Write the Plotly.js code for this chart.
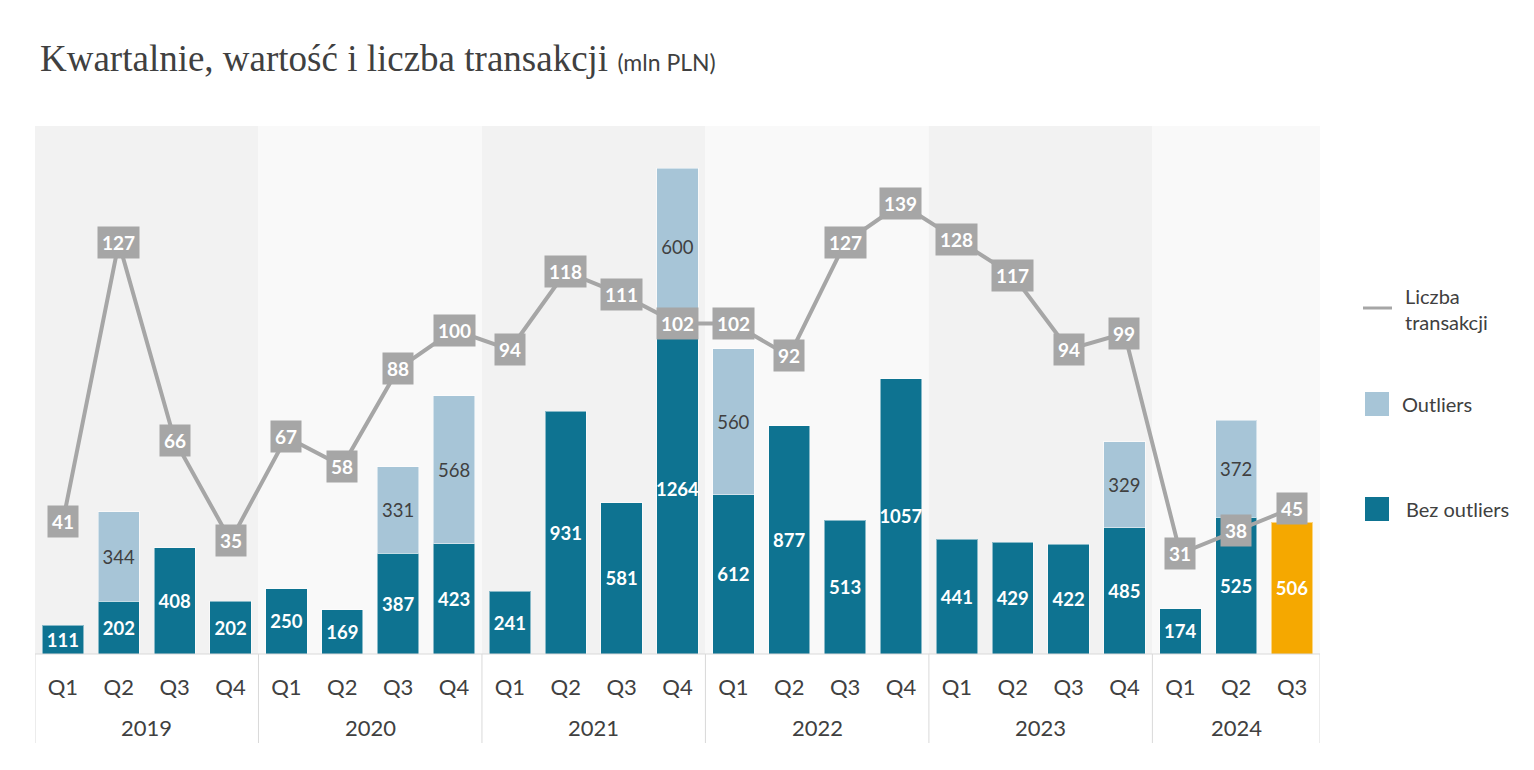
<!DOCTYPE html>
<html>
<head>
<meta charset="utf-8">
<script src="https://cdn.plot.ly/plotly-3.0.1.min.js"></script>
<style>html,body{margin:0;padding:0;background:#fff;}#chart{width:1534px;height:770px;}</style>
</head>
<body>
<div id="chart"></div>
<script>
// ---- data ----
const years = ['2019','2020','2021','2022','2023','2024'];
const quarterLabels = ['Q1','Q2','Q3','Q4','Q1','Q2','Q3','Q4','Q1','Q2','Q3','Q4','Q1','Q2','Q3','Q4','Q1','Q2','Q3','Q4','Q1','Q2','Q3'];
const quarterYears = ['2019','2019','2019','2019','2020','2020','2020','2020','2021','2021','2021','2021','2022','2022','2022','2022','2023','2023','2023','2023','2024','2024','2024'];
const bezOutliers = [111,202,408,202, 250,169,387,423, 241,931,581,1264, 612,877,513,1057, 441,429,422,485, 174,525,506];
const outliers = [null,344,null,null, null,null,331,568, null,null,null,600, 560,null,null,null, null,null,null,329, null,372,null];
const liczbaTransakcji = [41,127,66,35, 67,58,88,100, 94,118,111,102, 102,92,127,139, 128,117,94,99, 31,38,45];

// ---- styles ----
const TEAL = '#0e7391', LIGHT = '#a7c5d7', ORANGE = '#f5a800', GREY = '#a6a6a6', TXT = '#404040';
const W = 1534, H = 770, L = 35, R = 1320, T = 126, B = 654;
const px = x => (x - L) / (R - L);
const py = y => (B - y) / (B - T);

const idx = quarterLabels.map((_, i) => i);
const lastIdx = idx.length - 1;

const traces = [
  {
    type: 'bar', x: idx, y: bezOutliers, name: 'Bez outliers', width: 0.74,
    marker: { color: idx.map(i => i === lastIdx ? ORANGE : TEAL), line: { color: 'rgba(255,255,255,0.5)', width: 1 } },
    text: bezOutliers.map(String), textposition: 'inside', insidetextanchor: 'middle', textangle: 0,
    constraintext: 'none',
    textfont: { family: 'Lato', size: 18.5, color: '#ffffff', weight: 'bold' },
    hoverinfo: 'y', showlegend: false
  },
  {
    type: 'bar', x: idx, y: outliers, name: 'Outliers', width: 0.74,
    marker: { color: LIGHT, line: { color: 'rgba(255,255,255,0.5)', width: 1 } },
    text: outliers.map(v => v == null ? '' : String(v)), textposition: 'inside', insidetextanchor: 'middle', textangle: 0,
    constraintext: 'none',
    textfont: { family: 'Lato', size: 18.5, color: TXT },
    hoverinfo: 'y', showlegend: false
  },
  {
    type: 'scatter', mode: 'lines', x: idx, y: liczbaTransakcji, yaxis: 'y2', name: 'Liczba transakcji',
    line: { color: GREY, width: 4 }, hoverinfo: 'y', showlegend: false
  }
];

// background bands, dividers, year labels
const shapes = [];
const annotations = [];
years.forEach((yr, k) => {
  const members = idx.filter(i => quarterYears[i] === yr);
  const x0 = members[0] - 0.5, x1 = members[members.length - 1] + 0.5;
  shapes.push({ type: 'rect', xref: 'x', yref: 'paper', x0: x0, x1: x1, y0: 0, y1: 1,
    fillcolor: k % 2 === 0 ? '#f2f2f2' : '#f9f9f9', line: { width: 0 }, layer: 'below' });
  annotations.push({ xref: 'x', yref: 'paper', x: (x0 + x1) / 2, y: py(727), text: yr, showarrow: false,
    yanchor: 'middle', font: { family: 'Lato', size: 22, color: TXT } });
  shapes.push({ type: 'line', xref: 'x', yref: 'paper', x0: x0, x1: x0, y0: 0, y1: py(743), line: { color: '#d9d9d9', width: 1 } });
  if (k === years.length - 1) {
    shapes.push({ type: 'line', xref: 'x', yref: 'paper', x0: x1, x1: x1, y0: 0, y1: py(743), line: { color: '#d9d9d9', width: 1 } });
  }
});
shapes.push({ type: 'line', xref: 'paper', yref: 'paper', x0: 0, x1: 1, y0: 0, y1: 0, line: { color: '#d9d9d9', width: 1 } });

// line labels
liczbaTransakcji.forEach((v, i) => {
  annotations.push({ xref: 'x', yref: 'y2', x: i, y: v, text: String(v), showarrow: false,
    bgcolor: GREY, borderpad: 4, font: { family: 'Lato', size: 19, color: '#ffffff', weight: 'bold' } });
});

// custom legend
shapes.push({ type: 'rect', xref: 'paper', yref: 'paper', x0: px(1363), x1: px(1392), y0: py(306.5), y1: py(309.5), fillcolor: GREY, line: { width: 0 } });
annotations.push({ xref: 'paper', yref: 'paper', x: px(1403), y: py(309), xanchor: 'left', yanchor: 'middle', align: 'left',
  text: 'Liczba<br>transakcji', showarrow: false, font: { family: 'Lato', size: 20, color: TXT } });
shapes.push({ type: 'rect', xref: 'paper', yref: 'paper', x0: px(1365), x1: px(1389), y0: py(392), y1: py(416), fillcolor: LIGHT, line: { width: 0 } });
annotations.push({ xref: 'paper', yref: 'paper', x: px(1400), y: py(404), xanchor: 'left', yanchor: 'middle',
  text: 'Outliers', showarrow: false, font: { family: 'Lato', size: 20, color: TXT } });
shapes.push({ type: 'rect', xref: 'paper', yref: 'paper', x0: px(1365), x1: px(1389), y0: py(497), y1: py(521), fillcolor: TEAL, line: { width: 0 } });
annotations.push({ xref: 'paper', yref: 'paper', x: px(1404), y: py(509), xanchor: 'left', yanchor: 'middle',
  text: 'Bez outliers', showarrow: false, font: { family: 'Lato', size: 20, color: TXT } });

const layout = {
  width: W, height: H,
  margin: { l: L, r: W - R, t: T, b: H - B },
  paper_bgcolor: '#ffffff', plot_bgcolor: 'rgba(0,0,0,0)',
  barmode: 'stack', showlegend: false,
  title: {
    text: 'Kwartalnie, wartość i liczba transakcji <span style="font-family:Lato;font-size:23px">(mln PLN)</span>',
    x: 40 / W, xanchor: 'left', xref: 'container', y: 1 - 58 / H, yanchor: 'middle', yref: 'container',
    font: { family: 'Liberation Serif', size: 37, color: TXT }
  },
  xaxis: {
    range: [-0.5, lastIdx + 0.5], tickvals: idx, ticktext: quarterLabels,
    showgrid: false, zeroline: false, showline: false, ticks: '', ticklabelstandoff: 18,
    tickfont: { family: 'Lato', size: 22, color: TXT }, fixedrange: true
  },
  yaxis: { range: [0, 2027], visible: false, showgrid: false, zeroline: false, fixedrange: true },
  yaxis2: { range: [0, 163], overlaying: 'y', visible: false, showgrid: false, zeroline: false, fixedrange: true },
  shapes: shapes,
  annotations: annotations,
  font: { family: 'Lato', color: TXT }
};

Plotly.newPlot('chart', traces, layout, { displayModeBar: false, staticPlot: true });
</script>
</body>
</html>
